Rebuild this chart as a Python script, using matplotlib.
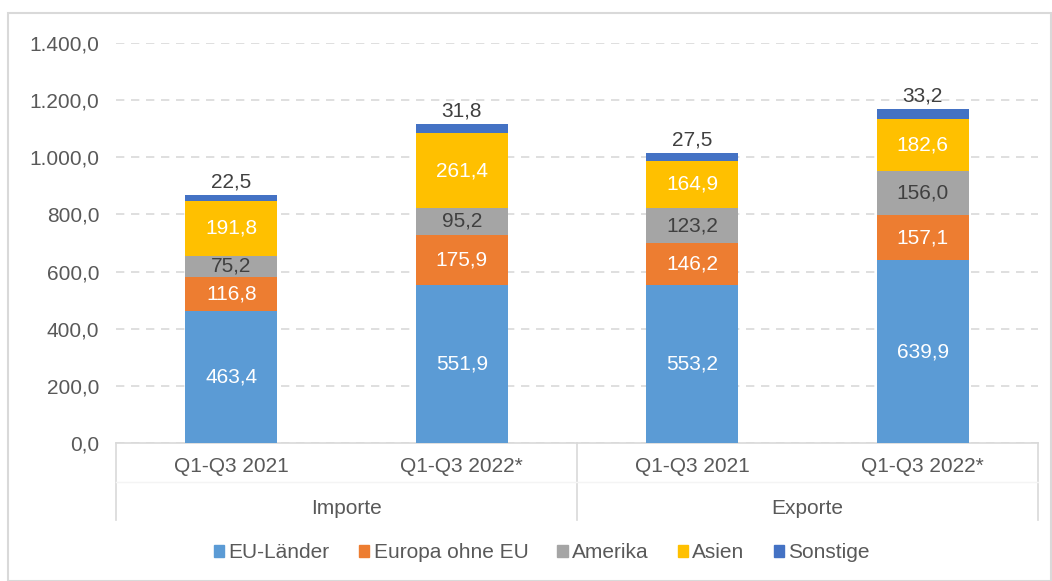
import matplotlib.pyplot as plt
import matplotlib.patches as mpatches
from matplotlib.lines import Line2D
import numpy as np

plt.rcParams['font.family'] = ['Liberation Sans', 'DejaVu Sans']

# data
groups = ["Importe", "Exporte"]
periods = ["Q1-Q3 2021", "Q1-Q3 2022*", "Q1-Q3 2021", "Q1-Q3 2022*"]
series_names = ["EU-Länder", "Europa ohne EU", "Amerika", "Asien", "Sonstige"]
eu = [463.4, 551.9, 553.2, 639.9]
europa_ohne_eu = [116.8, 175.9, 146.2, 157.1]
amerika = [75.2, 95.2, 123.2, 156.0]
asien = [191.8, 261.4, 164.9, 182.6]
sonstige = [22.5, 31.8, 27.5, 33.2]

colors = ["#5B9BD5", "#ED7D31", "#A5A5A5", "#FFC000", "#4472C4"]
label_colors = ["white", "white", "#404040", "white", None]
text_col = "#595959"
line_col = "#D9D9D9"
fs = 15

def fmt(v):
    s = "{:,.1f}".format(v)
    return s.replace(",", "X").replace(".", ",").replace("X", ".")

fig = plt.figure(figsize=(10.52, 5.81), dpi=100)
fig.patches.append(mpatches.Rectangle((8 / 1052, 0.0), 1 - 8 / 1052 - 0.0005, 1 - 13 / 581,
                                      transform=fig.transFigure, fill=False,
                                      edgecolor=line_col, linewidth=1.5))

ax = fig.add_axes([116 / 1052, 1 - 443 / 581, (1038 - 116) / 1052, 400 / 581])
x = np.arange(len(periods))
data = [eu, europa_ohne_eu, amerika, asien, sonstige]
bottom = np.zeros(len(periods))
for vals, name, c, lc in zip(data, series_names, colors, label_colors):
    vals = np.array(vals)
    ax.bar(x, vals, 0.4, bottom=bottom, color=c, label=name, zorder=3)
    for xi, b, v in zip(x, bottom, vals):
        if lc is None:
            ax.text(xi, b + v + 12, fmt(v), ha="center", va="bottom",
                    fontsize=fs, color="#404040")
        else:
            ax.text(xi, b + v / 2, fmt(v), ha="center", va="center",
                    fontsize=fs, color=lc)
    bottom += vals

ax.set_xlim(-0.5, 3.5)
ax.set_ylim(0, 1400)
ax.set_yticks(np.arange(0, 1401, 200))
ax.set_yticklabels([fmt(v) for v in np.arange(0, 1401, 200)])
ax.yaxis.grid(True, linestyle=(0, (5, 4)), color=line_col, linewidth=1.2, zorder=0)
ax.tick_params(axis="y", length=0, pad=12, labelsize=fs, labelcolor=text_col)
ax.set_xticks([])
for s in ["top", "right", "left"]:
    ax.spines[s].set_visible(False)
ax.spines["bottom"].set_color(line_col)
ax.spines["bottom"].set_linewidth(1.2)

# two-level category axis
tr = ax.get_xaxis_transform()
for xi, p in zip(x, periods):
    ax.text(xi, -23 / 400, p, transform=tr, ha="center", va="center",
            fontsize=fs, color=text_col)
for gi, g in enumerate(groups):
    ax.text(2 * gi + 0.5, -65 / 400, g, transform=tr, ha="center", va="center",
            fontsize=fs, color=text_col)
for xv in [-0.5, 1.5, 3.5]:
    ax.add_line(Line2D([xv, xv], [0, -77 / 400], transform=tr, color=line_col,
                       linewidth=1.2, clip_on=False))
ax.add_line(Line2D([-0.5, 3.5], [-39 / 400, -39 / 400], transform=tr,
                   color="#F4F4F4", linewidth=1, clip_on=False))

handles = [mpatches.Patch(color=c) for c in colors]
fig.legend(handles, series_names, loc="center", bbox_to_anchor=(542 / 1052, 1 - 553 / 581),
           ncol=5, frameon=False, fontsize=fs, labelcolor=text_col,
           handlelength=0.5, handleheight=0.5, handletextpad=0.2, columnspacing=1.4)

fig.savefig("out.png", dpi=100)
